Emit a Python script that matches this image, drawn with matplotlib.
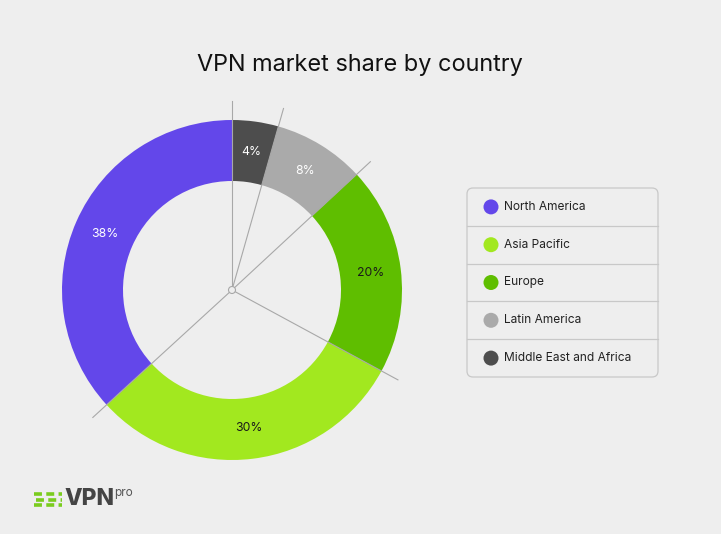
import numpy as np
import matplotlib.pyplot as plt
from matplotlib.patches import FancyBboxPatch, Circle

plt.rcParams['font.family'] = ['Inter', 'DejaVu Sans']

# data
regions = ['North America', 'Asia Pacific', 'Europe', 'Latin America', 'Middle East and Africa']
shares = [36.8, 30.3, 19.8, 8.7, 4.4]          # slice sizes as drawn
share_labels = ['38%', '30%', '20%', '8%', '4%']  # labels printed on the slices
colors = ['#6347EA', '#A2E81F', '#5FBE00', '#AAAAAA', '#4D4D4D']
label_colors = ['white', '#1a1a1a', '#1a1a1a', 'white', 'white']

W, H = 721, 534
bg = '#EEEEEE'
fig = plt.figure(figsize=(W / 100, H / 100), dpi=100, facecolor=bg)
ax = fig.add_axes([0, 0, 1, 1])
ax.set_facecolor(bg)

cx, cy = 232, H - 290
R, width = 170, 61

wedges, _ = ax.pie(shares, colors=colors, startangle=90, counterclock=True,
                   radius=R, center=(cx, cy),
                   wedgeprops=dict(width=width, linewidth=0))

# spokes through the slice boundaries
bounds = 90 + np.cumsum([0] + shares[:-1]) * 3.6
for a in bounds:
    t = np.deg2rad(a)
    L = R * 1.11
    ax.plot([cx, cx + L * np.cos(t)], [cy, cy + L * np.sin(t)],
            color='#A8A8A8', lw=0.8, zorder=5)
ax.add_patch(Circle((cx, cy), 3.5, facecolor=bg, edgecolor='#A8A8A8', lw=0.8, zorder=6))

# slice labels
mids = bounds + np.array(shares) * 1.8
for a, lab, c in zip(mids, share_labels, label_colors):
    t = np.deg2rad(a)
    rr = R - width / 2
    ax.text(cx + rr * np.cos(t), cy + rr * np.sin(t), lab, color=c,
            fontsize=8.8, ha='center', va='center', zorder=7)

# title
ax.text(360, H - 65, 'VPN market share by country', fontsize=16.9,
        ha='center', va='center', color='#111111')

# legend box
lx0, lx1, ly0, ly1 = 467, 658, 188, 377
box = FancyBboxPatch((lx0, H - ly1), lx1 - lx0, ly1 - ly0,
                     boxstyle='round,pad=0,rounding_size=6',
                     facecolor=bg, edgecolor='#C8C8C8', lw=0.9)
ax.add_patch(box)
row_h = (ly1 - ly0) / len(regions)
for i, (name, c) in enumerate(zip(regions, colors)):
    yc = H - (ly0 + row_h * (i + 0.5))
    ax.add_patch(Circle((491, yc), 7.5, facecolor=c, edgecolor='none'))
    ax.text(504, yc, name, fontsize=8.6, va='center', ha='left', color='#222222')
    if i > 0:
        ys = H - (ly0 + row_h * i)
        ax.plot([lx0, lx1], [ys, ys], color='#C8C8C8', lw=0.9)

# logo
for k, (yy, off) in enumerate([(494, 0), (499.5, 2), (505, 0)]):
    ax.plot([34 + off, 62], [H - yy, H - yy], color='#7ACC1E', lw=2.6,
            linestyle=(0, (2.2, 1.2)), solid_capstyle='round')
ax.text(64, H - 499, 'VPN', fontsize=16.5, fontweight='heavy', color='#444444',
        ha='left', va='center')
ax.text(114, H - 493, 'pro', fontsize=8.5, color='#555555', ha='left', va='center')

ax.set_xlim(0, W)
ax.set_ylim(0, H)
ax.set_aspect('auto')
ax.axis('off')

fig.savefig('out.png', dpi=100, facecolor=bg)
